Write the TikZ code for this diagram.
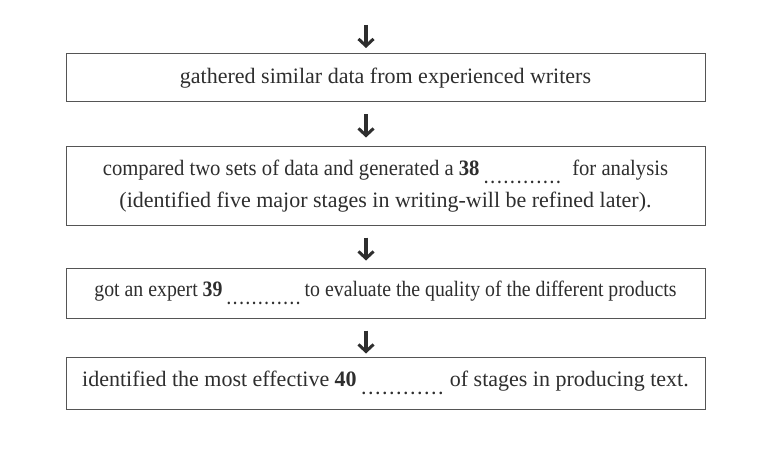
\documentclass[tikz,border=0pt]{standalone}
\usepackage{fontspec}
\setmainfont{Liberation Serif}
\usetikzlibrary{arrows.meta}
\definecolor{inkgray}{HTML}{2E2E2E}
\definecolor{boxgray}{HTML}{555555}
\newcommand\blankdots[1]{\raisebox{-8pt}{\hbox to #1{\cleaders\hbox to 7pt{\hss\fontsize{16}{16}\selectfont\textbf{.}\hss}\hfill}}}
\tikzset{
  flowbox/.style={draw=boxgray, line width=1pt, minimum width=639pt, inner sep=0pt, align=center, text=inkgray, font=\fontsize{22}{32}\selectfont},
  flowarrow/.style={draw=inkgray, line width=3.2pt, -{Straight Barb[length=7pt,width=15pt,line width=3pt]}}
}
\begin{document}
\begin{tikzpicture}[x=1pt,y=-1pt]
\useasboundingbox[fill=white] (0,0) rectangle (757,457);
\node[flowbox, minimum height=48pt] (b1) at (385.5,78) {\raisebox{-2pt}{gathered similar data from experienced writers}};
\node[flowbox, minimum height=78pt] (b2) at (385.5,186) {\scalebox{0.94}[1]{compared two sets of data and generated a \textbf{38}\,\blankdots{84pt}\ \ for analysis}\\(identified five major stages in writing-will be refined later).};
\node[flowbox, minimum height=50pt] (b3) at (385.5,293) {\scalebox{0.9}[1]{got an expert \textbf{39}\,\blankdots{84pt}\,to evaluate the quality of the different products}};
\node[flowbox, minimum height=52pt] (b4) at (385.5,383) {identified the most effective \textbf{40}\,\blankdots{84pt}\ of stages in producing text.};
\coordinate (top) at (366,25);
\draw[flowarrow] (top) -- (top |- 0,48);
\draw[flowarrow] (b1.south -| 366,0) ++(0,12) -- ++(0,23);
\draw[flowarrow] (b2.south -| 366,0) ++(0,12) -- ++(0,23);
\draw[flowarrow] (b3.south -| 366,0) ++(0,12) -- ++(0,23);
\end{tikzpicture}
\end{document}
